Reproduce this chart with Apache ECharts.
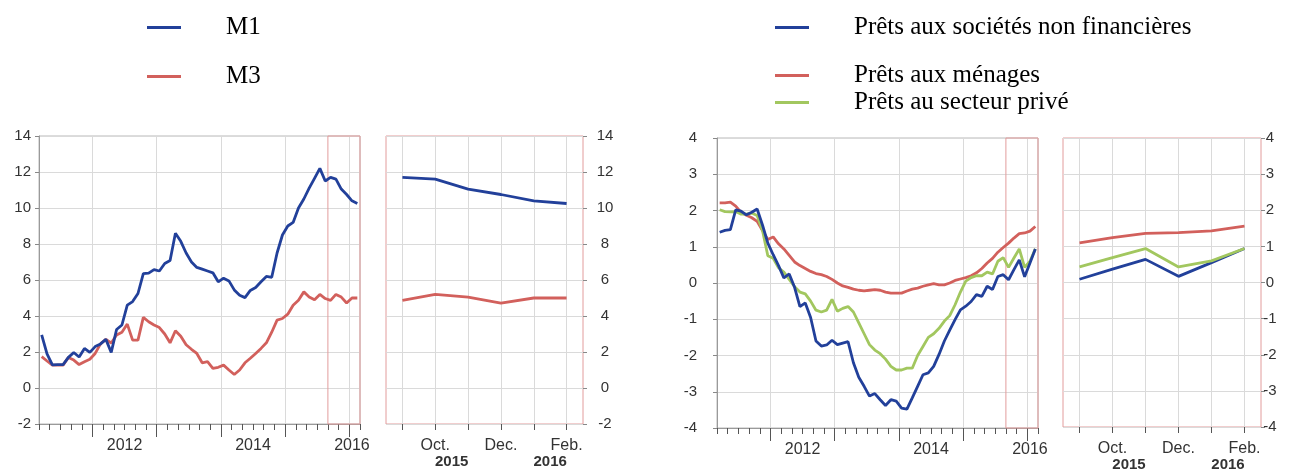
<!DOCTYPE html>
<html><head><meta charset="utf-8">
<script src="https://cdn.jsdelivr.net/npm/echarts@6/dist/echarts.min.js"></script>
<style>html,body{margin:0;padding:0;background:#fff}#c{width:1295px;height:472px}</style>
</head><body><div id="c"></div>
<script>
// Monthly data, Mar 2011 .. Feb 2016 (axis unit: months since Jan 2011)
const firstMonth = 2;

const m1 = [2.95,1.9,1.28,1.3,1.3,1.7,1.97,1.72,2.2,1.98,
            2.3,2.45,2.7,1.98,3.25,3.5,4.6,4.8,5.25,6.35,
            6.38,6.58,6.5,6.92,7.08,8.6,8.15,7.5,7.0,6.7,
            6.6,6.5,6.4,5.9,6.1,5.95,5.45,5.15,5.02,5.42,
            5.58,5.9,6.2,6.15,7.5,8.5,9.0,9.2,10.0,10.5,
            11.1,11.65,12.2,11.5,11.7,11.6,11.05,10.75,10.4,10.25];
const m3 = [1.74,1.5,1.27,1.27,1.27,1.7,1.55,1.3,1.46,1.6,
            1.92,2.45,2.7,2.5,2.94,3.1,3.55,2.66,2.66,3.92,
            3.68,3.5,3.36,3.0,2.51,3.18,2.88,2.4,2.15,1.92,
            1.4,1.46,1.09,1.15,1.27,1.0,0.75,1.0,1.4,1.65,
            1.92,2.2,2.51,3.1,3.77,3.86,4.1,4.6,4.88,5.34,
            5.06,4.9,5.2,4.97,4.87,5.2,5.05,4.72,5.0,5.0];

const pretsSNF = [1.4,1.45,1.47,2.02,1.98,1.88,1.95,2.04,1.6,1.1,
                  0.78,0.48,0.14,0.25,-0.12,-0.65,-0.55,-0.95,-1.6,-1.74,
                  -1.71,-1.58,-1.7,-1.66,-1.62,-2.2,-2.6,-2.85,-3.12,-3.05,
                  -3.22,-3.38,-3.22,-3.26,-3.45,-3.48,-3.17,-2.85,-2.53,-2.48,
                  -2.3,-1.97,-1.6,-1.3,-1.01,-0.74,-0.64,-0.51,-0.32,-0.37,
                  -0.09,-0.18,0.18,0.23,0.09,0.37,0.64,0.17,0.55,0.94];
const pretsMenages = [2.21,2.21,2.23,2.12,1.95,1.87,1.8,1.7,1.45,1.2,
                      1.27,1.08,0.94,0.76,0.58,0.48,0.4,0.32,0.26,0.23,
                      0.18,0.1,0.0,-0.08,-0.12,-0.17,-0.2,-0.22,-0.2,-0.18,
                      -0.2,-0.25,-0.28,-0.28,-0.28,-0.22,-0.17,-0.14,-0.09,-0.05,
                      -0.02,-0.05,-0.05,0.0,0.07,0.11,0.15,0.2,0.28,0.4,
                      0.55,0.68,0.85,0.98,1.1,1.24,1.36,1.38,1.43,1.56];
const pretsPrive = [2.02,1.97,1.96,1.97,1.9,1.9,1.93,1.86,1.45,0.75,
                    0.68,0.42,0.3,0.1,-0.1,-0.25,-0.3,-0.5,-0.75,-0.8,
                    -0.75,-0.45,-0.78,-0.7,-0.65,-0.8,-1.1,-1.4,-1.7,-1.85,
                    -1.95,-2.1,-2.3,-2.4,-2.4,-2.35,-2.35,-2.0,-1.75,-1.5,
                    -1.4,-1.25,-1.05,-0.9,-0.6,-0.25,0.05,0.15,0.2,0.2,
                    0.3,0.25,0.6,0.7,0.43,0.69,0.94,0.43,0.6,0.94];

// axis ticks / labels (axis values in months since Jan 2011)
const yearBounds = [12, 24, 36, 48, 60];
const yearLabelPos = [18, 42, 60.5];
const yearLabels = ['2012', '2014', '2016'];
const zoomMonthPos = [57.5, 59.5, 61.5];
const zoomMonthLabels = ['Oct.', 'Dec.', 'Feb.'];
const zoomYearPos = [58, 61];
const zoomYearLabels = ['2015', '2016'];
const zoomCount = 6;

const names = {
  m1: 'M1', m3: 'M3',
  snf: 'Prêts aux sociétés non financières',
  men: 'Prêts aux ménages',
  prv: 'Prêts au secteur privé'
};

const N = m1.length;
const xs = m1.map((_, k) => firstMonth + k + 0.5);
const axisMax = firstMonth + N;
const zoomStart = axisMax - zoomCount;
const zoomTicks = xs.slice(-zoomCount);
const full = arr => arr.map((v, k) => [xs[k], v]);
const zoom = arr => arr.slice(-zoomCount).map((v, k) => [zoomTicks[k], v]);

const BLUE = '#22409a', RED = '#d2605c', GREEN = '#a2c75f';
const FRAME = '#e29c9c', GRID = '#dadada', AXIS = '#9a9a9a', TICK = '#555';
const SANS = 'Liberation Sans, Arial, sans-serif';
const lab = { fontFamily: SANS, fontSize: 15, color: '#333' };
const xlab = { fontFamily: SANS, fontSize: 16, color: '#333' };

function mainX(g) {
  return [
    { gridIndex: g, type: 'value', min: firstMonth, max: axisMax, interval: 2,
      axisLine: { show: true, onZero: false, lineStyle: { color: AXIS } },
      axisTick: { show: true, length: 6, lineStyle: { color: TICK } },
      axisLabel: { show: false }, splitLine: { show: false } },
    { gridIndex: g, type: 'value', min: firstMonth, max: axisMax, position: 'bottom',
      axisLine: { show: false, onZero: false },
      axisTick: { show: true, length: 13, customValues: yearBounds, lineStyle: { color: TICK } },
      axisLabel: Object.assign({ customValues: yearLabelPos, margin: 14,
        formatter: v => yearLabels[yearLabelPos.indexOf(v)] }, xlab),
      splitLine: { show: true, lineStyle: { color: GRID } } }
  ];
}
function zoomX(g) {
  return [
    { gridIndex: g, type: 'value', min: zoomStart, max: axisMax,
      axisLine: { show: false, onZero: false },
      axisTick: { show: true, length: 6, customValues: zoomTicks, lineStyle: { color: TICK } },
      axisLabel: Object.assign({ customValues: zoomMonthPos, margin: 14,
        formatter: v => zoomMonthLabels[zoomMonthPos.indexOf(v)] }, xlab),
      splitLine: { show: true, lineStyle: { color: GRID } } },
    { gridIndex: g, type: 'value', min: zoomStart, max: axisMax, position: 'bottom',
      axisLine: { show: false, onZero: false }, axisTick: { show: false },
      axisLabel: Object.assign({ customValues: zoomYearPos, margin: 30, fontWeight: 'bold',
        formatter: v => zoomYearLabels[zoomYearPos.indexOf(v)] }, lab),
      splitLine: { show: false } }
  ];
}
function yAx(g, min, max, interval, pos, margin, align, showLine) {
  return { gridIndex: g, type: 'value', min, max, interval, position: pos,
    axisLine: { show: showLine, lineStyle: { color: AXIS } },
    axisTick: { show: true, length: 4, lineStyle: { color: '#888' } },
    axisLabel: Object.assign({ margin, align }, lab),
    splitLine: { show: true, lineStyle: { color: GRID } } };
}
function line(name, xi, yi, data, color, extra) {
  return Object.assign({ name, type: 'line', xAxisIndex: xi, yAxisIndex: yi, data,
    symbol: 'none', silent: true, animation: false,
    lineStyle: { color, width: 2.8 }, itemStyle: { color } }, extra || {});
}
const rect = { silent: true, itemStyle: { color: 'rgba(0,0,0,0)', borderColor: FRAME, borderWidth: 1 },
  data: [[{ xAxis: zoomStart }, { xAxis: axisMax }]] };

const legBase = { orient: 'vertical', icon: 'rect', itemWidth: 34, itemHeight: 3, padding: 0, selectedMode: false,
  textStyle: { fontFamily: 'Liberation Serif, Times New Roman, serif', fontSize: 25, lineHeight: 24,
    color: '#000', padding: [0, 0, 0, 40] } };
const leg = (name, left, top) => Object.assign({ data: [name], left, top }, legBase);

const option = {
  animation: false,
  backgroundColor: '#fff',
  legend: [
    leg(names.m1, 147, 15), leg(names.m3, 147, 64),
    leg(names.snf, 775, 15), leg(names.men, 775, 63), leg(names.prv, 775, 90)
  ],
  grid: [
    { left: 39, top: 136, width: 321, height: 288, show: true, borderColor: '#b8b8b8', borderWidth: 1 },
    { left: 386, top: 136, width: 197, height: 288, show: true, borderColor: FRAME, borderWidth: 1 },
    { left: 717, top: 138, width: 321, height: 290, show: true, borderColor: '#b8b8b8', borderWidth: 1 },
    { left: 1063, top: 138, width: 198, height: 290, show: true, borderColor: FRAME, borderWidth: 1 }
  ],
  xAxis: [].concat(mainX(0), zoomX(1), mainX(2), zoomX(3)),
  yAxis: [
    yAx(0, -2, 14, 2, 'left', 8, 'right', true),
    yAx(1, -2, 14, 2, 'right', 22, 'center', false),
    yAx(2, -4, 4, 1, 'left', 20, 'right', true),
    yAx(3, -4, 4, 1, 'right', 9, 'center', false)
  ],
  series: [
    line(names.m3, 0, 0, full(m3), RED, { markArea: rect }),
    line(names.m1, 0, 0, full(m1), BLUE),
    line(names.m3, 2, 1, zoom(m3), RED),
    line(names.m1, 2, 1, zoom(m1), BLUE),
    line(names.men, 4, 2, full(pretsMenages), RED, { markArea: rect }),
    line(names.prv, 4, 2, full(pretsPrive), GREEN),
    line(names.snf, 4, 2, full(pretsSNF), BLUE),
    line(names.men, 6, 3, zoom(pretsMenages), RED),
    line(names.snf, 6, 3, zoom(pretsSNF), BLUE),
    line(names.prv, 6, 3, zoom(pretsPrive), GREEN)
  ]
};
const chart = echarts.init(document.getElementById('c'), null, { renderer: 'canvas' });
chart.setOption(option);
</script></body></html>
